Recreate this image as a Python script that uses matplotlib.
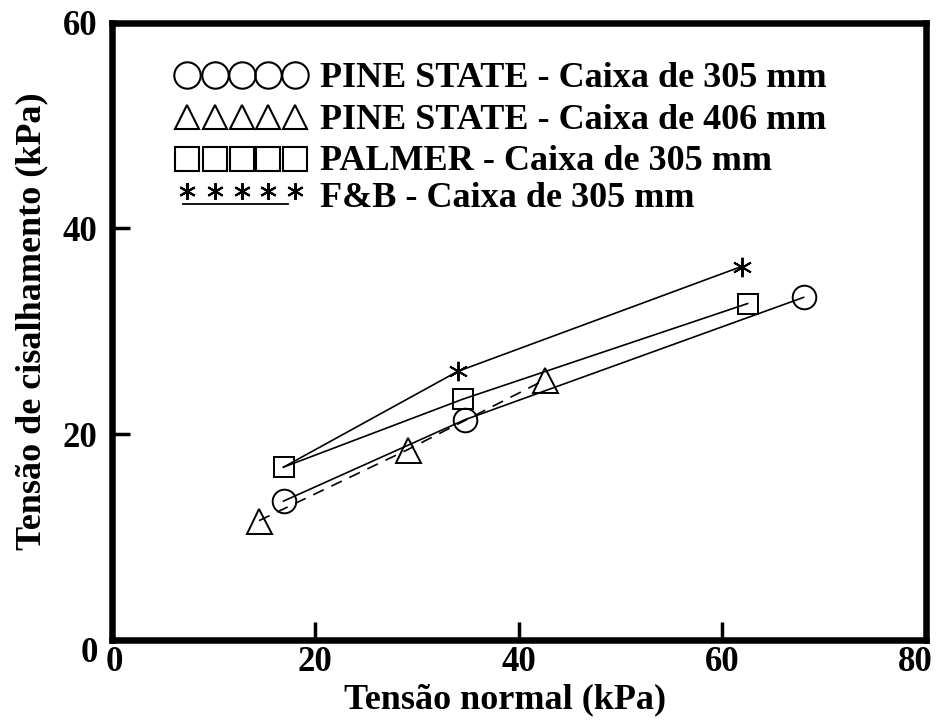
import matplotlib.pyplot as plt
from matplotlib.transforms import ScaledTranslation

plt.rcParams['font.family'] = ['Liberation Serif', 'DejaVu Serif']
plt.rcParams['font.weight'] = 'bold'

# ensaios de cisalhamento direto (tensão normal x tensão cisalhante, kPa)
ps305_x = [16.9, 34.7, 68.0]
ps305_y = [13.5, 21.4, 33.3]

ps406_x = [14.5, 29.1, 42.6]
ps406_y = [11.6, 18.5, 25.3]

palmer_x = [16.9, 34.5, 62.5]
palmer_y = [16.8, 23.4, 32.7]

fb_x = [16.9, 34.0, 61.9]
fb_y = [16.8, 26.1, 36.3]

labels = ['PINE STATE - Caixa de 305 mm',
          'PINE STATE - Caixa de 406 mm',
          'PALMER - Caixa de 305 mm',
          'F&B - Caixa de 305 mm']

xticks = [0, 20, 40, 60, 80]
yticks = [0, 20, 40, 60]

star = (6, 2, 0)

fig = plt.figure(figsize=(9.37, 7.22), dpi=100)
ax = fig.add_axes([0.119, 0.1136, 0.869, 0.855])

lw = 1.2
mew = 1.4
ax.plot(ps305_x, ps305_y, color='k', lw=lw, marker='o', ms=17, mfc='none', mew=mew)
ax.plot(ps406_x, ps406_y, color='k', lw=lw, ls=(0, (7, 5)), marker='^', ms=18, mfc='none', mew=mew)
ax.plot(palmer_x, palmer_y, color='k', lw=lw, marker='s', ms=15, mfc='none', mew=mew)
ax.plot(fb_x, fb_y, color='k', lw=lw, marker=star, ms=14, mew=mew, markevery=[1, 2])

# legenda desenhada a mao: 5 simbolos por linha + texto
leg_x = [0.0927, 0.1271, 0.1603, 0.1922, 0.2253]
rows = [('o', 19, 0.915), ('^', 17, 0.848), ('s', 17, 0.779), (star, 12, 0.727)]
baselines = [0.8956, 0.8275, 0.7611, 0.7012]
for (m, s, y), lab, b in zip(rows, labels, baselines):
    ax.plot(leg_x, [y] * 5, ls='none', marker=m, ms=s, mfc='none', mec='k',
            mew=1.5, transform=ax.transAxes, clip_on=False)
    ax.text(0.256, b, lab, transform=ax.transAxes, fontsize=26,
            ha='left', va='baseline')
ax.plot([0.0878, 0.2167], [0.706, 0.706], color='k', lw=1.3, transform=ax.transAxes)

ax.set_xlim(0, 80)
ax.set_ylim(0, 60)
ax.set_xticks(xticks)
ax.set_yticks(yticks)
ax.tick_params(direction='in', length=13, width=2.5, labelsize=25)
ax.tick_params(axis='x', pad=4)
ax.tick_params(axis='y', pad=10)
for sp in ax.spines.values():
    sp.set_linewidth(4.7)

# "80" puxado para dentro e "0" do eixo y um pouco abaixo
xl = ax.get_xticklabels()
xl[-1].set_transform(xl[-1].get_transform() + ScaledTranslation(-11 / 100, 0, fig.dpi_scale_trans))
xl[0].set_transform(xl[0].get_transform() + ScaledTranslation(3 / 100, 0, fig.dpi_scale_trans))
yl = ax.get_yticklabels()
yl[0].set_transform(yl[0].get_transform() + ScaledTranslation(0, -10 / 100, fig.dpi_scale_trans))

ax.set_xlabel('Tensão normal (kPa)', fontsize=26, fontweight='bold')
ax.set_ylabel('Tensão de cisalhamento (kPa)', fontsize=26, fontweight='bold')
ax.xaxis.set_label_coords(0.483, -0.07)
ax.yaxis.set_label_coords(-0.077, 0.517)

plt.savefig('out.png', dpi=100)
